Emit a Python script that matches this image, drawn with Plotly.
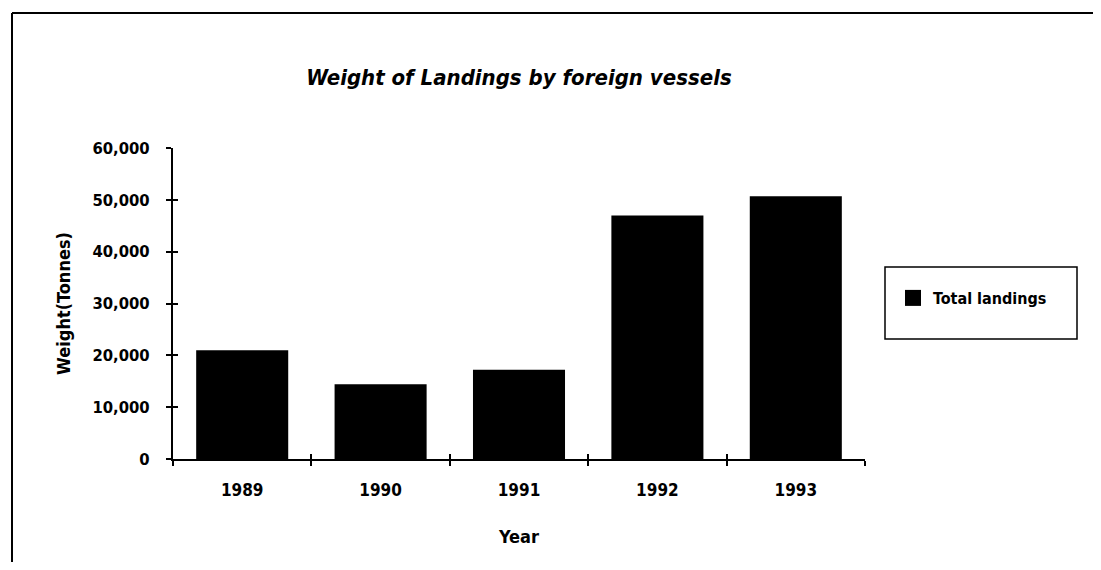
import plotly.graph_objects as go

years = ["1989", "1990", "1991", "1992", "1993"]
landings = [21000, 14400, 17200, 47000, 50700]
series_name = "Total landings"
y_ticks = [0, 10000, 20000, 30000, 40000, 50000, 60000]

FONT = "DejaVu Sans Condensed, Liberation Sans Narrow, Arial Narrow, sans-serif"

# page body has an 8px margin; figure sized to fit the window
OFF = 8
W, H = 1101 - 2 * OFF, 570 - 2 * OFF
L, T = 173 - OFF, 148 - OFF
R = W - (865 - OFF)
B = H - (459 - OFF)
PW, PH = W - L - R, H - T - B


def px_x(sx):
    return (sx - OFF - L) / PW


def px_y(sy):
    return (H - B - (sy - OFF)) / PH


fig = go.Figure()
fig.add_trace(go.Bar(x=years, y=landings, name=series_name,
                     marker=dict(color="black", line=dict(color="black", width=0)),
                     showlegend=False))
# legend entry with a larger square symbol (on the overlay axes that carry the inner tick halves)
fig.add_trace(go.Scatter(x=[None], y=[None], mode="markers", name=series_name,
                         xaxis="x2", yaxis="y2",
                         marker=dict(symbol="square", size=18, color="black"),
                         showlegend=True, hoverinfo="skip"))

tickf_y = dict(family=FONT, color="black", size=16.5, weight="bold")
tickf_x = dict(family=FONT, color="black", size=17, weight="bold")

fig.update_layout(
    width=W, height=H,
    margin=dict(l=L, r=R, t=T, b=B),
    paper_bgcolor="white", plot_bgcolor="white",
    bargap=0.335,
    font=dict(family=FONT, color="black", size=16),
    title=dict(text="<i>Weight of Landings by foreign vessels</i>",
               x=(519 - OFF) / W, xanchor="center",
               y=1 - (77 - OFF) / H, yanchor="middle",
               font=dict(size=22, family=FONT, color="black", weight="bold")),
    xaxis=dict(type="category", showline=True, linecolor="black", linewidth=2,
               ticks="outside", ticklen=5, tickwidth=1.5, tickcolor="black",
               tickson="boundaries",
               tickfont=tickf_x, ticklabelstandoff=15,
               title=dict(text="Year", font=dict(size=18, family=FONT, weight="bold"), standoff=31),
               showgrid=False, fixedrange=True),
    yaxis=dict(range=[0, 60000], tickvals=y_ticks, tickformat=",", showline=True,
               linecolor="black", linewidth=2, ticks="outside", ticklen=5,
               tickwidth=1.5, tickcolor="black", showgrid=False, zeroline=False,
               tickfont=tickf_y, ticklabelstandoff=13,
               title=dict(text="Weight(Tonnes)", font=dict(size=18, family=FONT, weight="bold"), standoff=17)),
    xaxis2=dict(overlaying="x", anchor="y", side="bottom", range=[-0.5, len(years) - 0.5],
                tickvals=[i + 0.5 for i in range(len(years) - 1)], ticks="inside", ticklen=5,
                tickwidth=1.5, tickcolor="black", showticklabels=False, showgrid=False,
                zeroline=False, showline=False),
    yaxis2=dict(overlaying="y", anchor="x", side="left", range=[0, 60000],
                tickvals=y_ticks, ticks="inside", ticklen=5, tickwidth=1.5,
                tickcolor="black", showticklabels=False, showgrid=False,
                zeroline=False, showline=False),
    legend=dict(x=px_x(893), y=px_y(298), xanchor="left", yanchor="middle",
                borderwidth=0, bgcolor="rgba(0,0,0,0)",
                font=dict(size=16, family=FONT, color="black", weight="bold")),
    shapes=[
        dict(type="rect", xref="paper", yref="paper", x0=px_x(885), x1=px_x(1077),
             y0=px_y(339), y1=px_y(267), line=dict(color="black", width=1.5)),
        dict(type="line", xref="paper", yref="paper", x0=px_x(12), x1=px_x(1101),
             y0=px_y(13), y1=px_y(13), line=dict(color="black", width=2)),
        dict(type="line", xref="paper", yref="paper", x0=px_x(12), x1=px_x(12),
             y0=px_y(13), y1=px_y(570), line=dict(color="black", width=2)),
    ],
)

fig.write_html("out.html")
